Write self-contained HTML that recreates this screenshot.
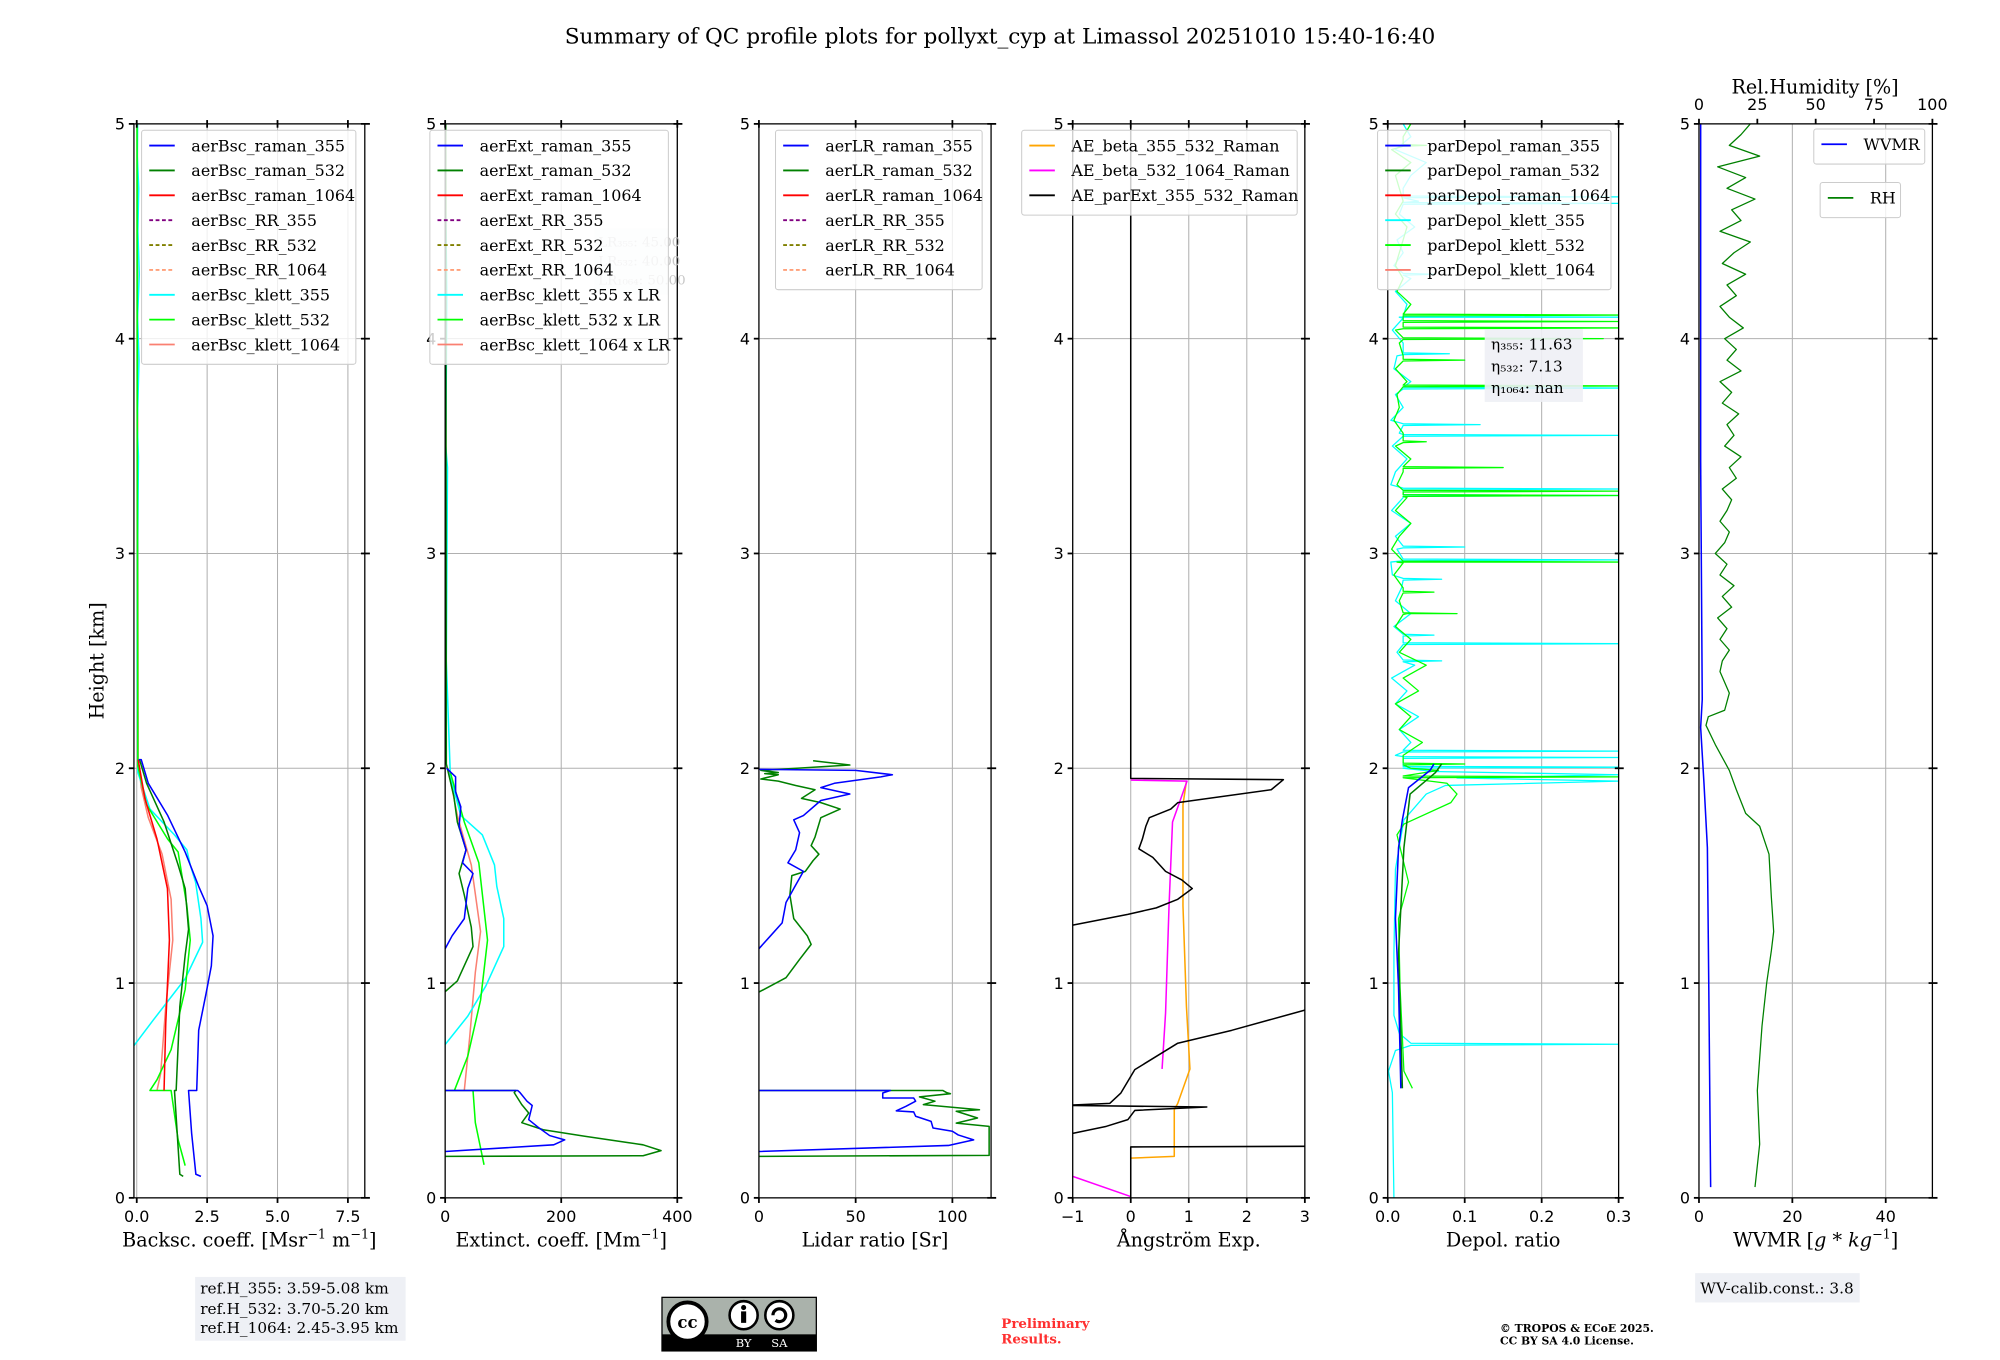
<!DOCTYPE html>
<html><head><meta charset="utf-8"><style>
html,body{margin:0;padding:0;background:#fff;}
svg{display:block;}
text{font-family:"DejaVu Serif","Liberation Serif",serif;}
.tk{font-family:"DejaVu Sans","Liberation Sans",sans-serif;font-size:12.5px;}
</style></head><body>
<svg id="fig" width="2000" height="1360" viewBox="0 0 1568 1066" xmlns="http://www.w3.org/2000/svg">
<rect x="0" y="0" width="1568" height="1066" fill="#fff"/>
<text x="784" y="34" text-anchor="middle" font-size="17">Summary of QC profile plots for pollyxt_cyp at Limassol 20251010 15:40-16:40</text>
<g id="plots"></g>
<g>
<rect x="153" y="1001" width="165" height="50" fill="#eef0f5"/>
<text x="157" y="1014" font-size="12">ref.H_355: 3.59-5.08 km</text>
<text x="157" y="1030" font-size="12">ref.H_532: 3.70-5.20 km</text>
<text x="157" y="1045" font-size="12">ref.H_1064: 2.45-3.95 km</text>
</g>
<g>
<rect x="519" y="1017" width="121" height="42" fill="#aab2ab" stroke="#000" stroke-width="1"/>
<rect x="519" y="1046" width="121" height="13" fill="#000"/>
<circle cx="539" cy="1036" r="15" fill="#fff" stroke="#000" stroke-width="3"/>
<text x="539" y="1041" font-size="13" text-anchor="middle" font-weight="bold" font-family="Liberation Sans,sans-serif">cc</text>
<circle cx="583" cy="1031" r="11" fill="#fff" stroke="#000" stroke-width="2"/>
<circle cx="583" cy="1025" r="2" fill="#000"/>
<rect x="581" y="1028" width="4" height="9" fill="#000"/>
<circle cx="611" cy="1031" r="11" fill="#fff" stroke="#000" stroke-width="2"/>
<path d="M606 1031 a5 5 0 1 1 2 4" fill="none" stroke="#000" stroke-width="2.5"/>
<text x="583" y="1056" font-size="9" fill="#fff" text-anchor="middle" font-family="Liberation Sans,sans-serif">BY</text>
<text x="611" y="1056" font-size="9" fill="#fff" text-anchor="middle" font-family="Liberation Sans,sans-serif">SA</text>
</g>
<text x="785" y="1041" font-size="10.5" font-weight="bold" fill="#ff3030">Preliminary</text>
<text x="785" y="1053" font-size="10.5" font-weight="bold" fill="#ff3030">Results.</text>
<text x="1176" y="1044" font-size="8.5" font-weight="bold">© TROPOS &amp; ECoE 2025.</text>
<text x="1176" y="1054" font-size="8.5" font-weight="bold">CC BY SA 4.0 License.</text>
<g>
<rect x="1329" y="998" width="129" height="23" fill="#eef0f5"/>
<text x="1333" y="1014" font-size="12">WV-calib.const.: 3.8</text>
</g>
</svg>
<script>
// ===== data (height km, value) =====
const bscRaman355=[[0.10,2.28],[0.11,2.1],[0.30,1.95],[0.50,1.84],[0.50,2.13],[0.78,2.2],[0.95,2.46],[1.08,2.65],[1.22,2.71],[1.36,2.5],[1.45,2.2],[1.61,1.72],[1.78,1.1],[1.93,0.41],[2.04,0.16],[2.04,0.07]];
const bscRaman532=[[0.10,1.65],[0.11,1.53],[0.50,1.34],[0.50,1.4],[0.89,1.53],[1.13,1.72],[1.25,1.84],[1.44,1.72],[1.55,1.47],[1.75,0.97],[1.93,0.35],[2.04,0.1]];
const bscRaman1064=[[0.50,0.97],[0.81,1.03],[1.2,1.16],[1.44,1.09],[1.67,0.72],[1.86,0.29],[2.04,0.05]];
const bscKlett355=[[0.70,-0.15],[0.83,0.6],[1.02,1.72],[1.19,2.34],[1.30,2.28],[1.47,2.09],[1.55,1.9],[1.62,1.78],[1.69,1.34],[1.81,0.47],[1.98,0.04],[2.5,0.02],[3.0,0.03],[3.45,0.06],[3.6,0.02],[3.9,0.08],[4.1,0.03],[4.3,0.09],[4.5,0.04],[4.7,0.07],[4.85,0.02],[5.0,0.03]];
const bscKlett532=[[0.15,1.72],[0.27,1.47],[0.50,1.22],[0.50,0.47],[0.55,0.72],[0.69,1.22],[0.97,1.72],[1.2,1.9],[1.36,1.78],[1.61,1.47],[1.67,1.1],[1.83,0.35],[2.01,0.04],[3.5,0.02],[5.0,0.01]];
const bscKlett1064=[[0.50,0.72],[0.58,0.85],[0.89,1.03],[1.2,1.28],[1.39,1.22],[1.6,0.9],[1.77,0.41],[1.91,0.16],[2.04,0.05],[5.0,0.02]];

const extRaman355=[[0.216,0],[0.247,187],[0.27,206],[0.29,180],[0.325,162],[0.364,144],[0.43,150],[0.45,141],[0.49,129],[0.5,125],[0.5,0],null,[1.16,0],[1.22,12],[1.30,33],[1.44,39],[1.51,48],[1.56,30],[1.62,36],[1.73,24],[1.82,27],[1.89,18],[1.96,18],[2.0,2.5]];
const extRaman532=[[0.193,0],[0.196,341],[0.22,372],[0.247,341],[0.286,242],[0.317,169],[0.35,132],[0.395,144],[0.434,132],[0.49,119],[0.5,122],[0.5,0],null,[0.96,0],[1.01,21],[1.17,48],[1.26,45],[1.41,33],[1.51,24],[1.62,36],[1.75,21],[1.87,15],[2.02,2],[5.0,1]];
const extKlett532=[[0.154,67],[0.35,52],[0.5,48],null,[0.5,16],[0.66,39],[0.92,61],[1.2,73],[1.56,58],[1.75,33],[1.98,9]];
const extKlett355=[[0.714,0],[0.846,39],[0.986,70],[1.17,101],[1.30,101],[1.45,89],[1.55,85],[1.69,64],[1.78,27],[1.96,9],[2.5,2],[3.4,4],[3.5,1],[4.2,3],[4.6,1]];
const extKlett1064=[[0.5,33],[0.74,42],[1.05,52],[1.24,61],[1.55,45],[1.78,21],[2.0,5]];

const lrRaman355=[[0.216,0],[0.244,98],[0.27,111],[0.293,103],[0.31,100],[0.325,90],[0.356,89],[0.38,81],[0.40,80],[0.405,71],[0.426,76],[0.45,81],[0.465,80],[0.465,64],[0.488,64],[0.5,68],[0.5,0],null,[1.16,0],[1.22,6],[1.28,12],[1.375,14],[1.44,18],[1.52,23],[1.56,15],[1.62,19],[1.70,21],[1.76,18],[1.78,23],[1.85,32],[1.88,47],[1.91,32],[1.93,39],[1.96,63],[1.97,69],[1.99,50],[1.995,0]];
const lrRaman532=[[0.193,0],[0.198,119],[0.333,119],[0.348,102],[0.372,113],[0.403,102],[0.41,114],[0.434,85],[0.45,91],[0.47,83],[0.485,99],[0.49,97],[0.5,95],[0.5,0],null,[0.958,0],[1.025,14],[1.11,21],[1.18,27],[1.22,25],[1.30,18],[1.41,16],[1.50,17],[1.52,24],[1.57,28],[1.60,31],[1.64,27],[1.68,29],[1.77,32],[1.81,42],[1.84,32],[1.86,22],[1.90,29],[1.92,19],[1.94,10],[1.95,1],[1.97,10],[1.975,3],[1.98,10],[1.99,1],[2.015,47],[2.035,28]];

const aeBeta355532=[[0.185,0],[0.193,0.75],[0.41,0.75],[0.44,0.81],[0.6,1.02],[0.89,0.96],[1.36,0.9],[1.83,0.9],[1.94,0.96]];
const aeBeta5321064=[[0.1,-1],[0.006,0],null,[0.6,0.54],[0.86,0.6],[1.36,0.66],[1.75,0.72],[1.94,0.97],[1.945,0]];
const aeParExt=[[0,0],[0.237,0],[0.24,3],null,[0.30,-1],[0.333,-0.42],[0.364,-0.05],[0.407,0.07],[0.423,1.31],[0.43,-1],null,[0.432,-1],[0.44,-0.36],[0.488,-0.17],[0.597,0.07],[0.72,0.81],[0.78,1.74],[0.874,3]];
const aeParExtUpper=[[1.27,-1],[1.32,-0.05],[1.35,0.44],[1.39,0.81],[1.44,1.06],[1.48,0.88],[1.52,0.6],[1.585,0.38],[1.625,0.14],[1.67,0.2],[1.73,0.26],[1.77,0.32],[1.81,0.69],[1.84,0.81],[1.90,2.42],[1.947,2.63],[1.953,0],[5.0,0]];

const depRaman355=[[0.51,0.017],[0.98,0.014],[1.30,0.010],[1.63,0.014],[1.76,0.019],[1.91,0.027],[1.99,0.055],[2.02,0.06]];
const depRaman532=[[0.51,0.019],[1.14,0.014],[1.63,0.021],[1.88,0.029],[1.98,0.062],[2.02,0.07]];
const depKlett532Low=[[0.51,0.032],[0.59,0.021],[0.98,0.016],[1.30,0.014],[1.47,0.027],[1.69,0.012],[1.74,0.021],[1.84,0.082],[1.88,0.09],[1.93,0.077],[1.99,0.066]];
const depKlett355Low=[[0,0.008],[0.49,0.006],[0.59,0.001],[0.686,0.01],[0.71,0.03],[0.715,0.3],[0.72,0.03],[0.766,0.015],[0.85,0.008],[1.14,0.008],[1.53,0.01],[1.76,0.021],[1.88,0.05],[1.92,0.075],[1.94,0.3],[1.955,0.09],[1.97,0.3],[1.985,0.06]];
const depBaseH0=2.0, depBaseStep=0.06;
const depKlett355Base=[0.02,0.01,0.03,0.015,0.04,0.01,0.025,0.005,0.035,0.012,0.02,0.008,0.03,0.01,0.018,0.006,0.004,0.012,0.01,0.03,0.005,0.02,0.004,0.01,0.025,0.006,0.015,0.004,0.02,0.01,0.03,0.008,0.012,0.02,0.006,0.015,0.025,0.01,0.03,0.008,0.02,0.012,0.035,0.015,0.04,0.02,0.03,0.05,0.01,0.03,0.02];
const depKlett532Base=[0.03,0.02,0.045,0.015,0.03,0.01,0.04,0.02,0.05,0.015,0.03,0.01,0.025,0.015,0.02,0.008,0.012,0.005,0.015,0.03,0.01,0.025,0.012,0.02,0.03,0.01,0.02,0.008,0.015,0.012,0.025,0.01,0.02,0.015,0.01,0.02,0.03,0.012,0.02,0.01,0.015,0.02,0.025,0.01,0.02,0.015,0.01,0.03,0.005,0.02,0.03];
const depKlett355Spikes=[[2.005,0.3],[2.05,0.3],[2.08,0.3],[2.5,0.07],[2.58,0.3],[2.62,0.06],[2.88,0.07],[2.97,0.3],[3.03,0.1],[3.27,0.3],[3.30,0.3],[3.55,0.3],[3.60,0.12],[3.77,0.3],[3.93,0.08],[4.10,0.3],[4.63,0.3],[4.66,0.3],[4.3,0.06]];
const depKlett532Spikes=[[1.96,0.3],[2.02,0.1],[2.72,0.09],[2.82,0.06],[2.96,0.3],[3.27,0.3],[3.29,0.3],[3.40,0.15],[3.52,0.05],[3.78,0.3],[4.0,0.28],[4.05,0.3],[4.08,0.3],[4.11,0.3],[3.9,0.1],[4.9,0.05]];

const wvmr=[[0.05,2.5],[0.98,2.1],[1.63,1.8],[1.93,1.07],[2.19,0.36],[2.32,0.7],[3.43,0.36],[5.0,0.36]];
const rhLow=[[0.05,24],[0.25,26],[0.5,25],[0.8,27],[1.0,29],[1.15,31],[1.24,32],[1.4,31],[1.6,30],[1.73,26],[1.79,20],[1.90,16],[1.99,13],[2.11,7],[2.2,3],[2.24,4],[2.27,11],[2.35,13],[2.45,9]];
const rhH0=2.5, rhStep=0.05;
const rhBase=[10,13,9,12,8,14,10,15,9,12,7,11,13,9,12,14,10,16,13,18,11,15,12,17,10,14,9,18,12,16,11,19,13,9,16,12,20,10,15,22,9,18,14,24,12,20,8,26,13,18,22];

const ticks1=[0,2.5,5,7.5], tickLab1=["0.0","2.5","5.0","7.5"];
const ticks2=[0,200,400], ticks3=[0,50,100], ticks4=[-1,0,1,2,3], tickLab4=["\u22121","0","1","2","3"];
const ticks5=[0,0.1,0.2,0.3], tickLab5=["0.0","0.1","0.2","0.3"];
const ticks6=[0,20,40], ticksRH=[0,25,50,75,100];
const heightTicks=[0,1,2,3,4,5];

// ===== drawing =====
const NS="http://www.w3.org/2000/svg";
const root=document.getElementById('plots');
const Y0=939, KM=168.4;
function yS(h){return Y0-h*KM;}
function mk(tag,attrs,parent){const e=document.createElementNS(NS,tag);for(const k in attrs)e.setAttribute(k,attrs[k]);(parent||root).appendChild(e);return e;}
function xS(p,v){return p.x0+(v-p.d0)/(p.d1-p.d0)*(p.x1-p.x0);}
function pathOf(p,pts){let d="",mv=true;for(const q of pts){if(q===null){mv=true;continue;}d+=(mv?"M":"L")+xS(p,q[1]).toFixed(2)+" "+yS(q[0]).toFixed(2)+" ";mv=false;}return d;}
function series(p,pts,color,name,w,dash){const e=mk('path',{d:pathOf(p,pts),fill:'none',stroke:color,'stroke-width':w||1.2,'stroke-linejoin':'round'},p.clip);


if(dash)e.setAttribute('stroke-dasharray',dash);return e;}
function baseSeries(h0,step,vals,spikes,low){const pts=(low||[]).slice();vals.forEach((v,i)=>pts.push([h0+i*step,v]));spikes.forEach(s=>{pts.push([s[0]-0.004,0.02]);pts.push(s);pts.push([s[0]+0.004,0.02]);});pts.sort((a,b)=>a[0]-b[0]);return pts;}

let panelId=0;
function panel(x0,x1,d0,d1,ticks,labs,xlabel,name){
  panelId++;
  const g=mk('g',{});
  
  
  const p={x0,x1,d0,d1,g};
  const cp=mk('clipPath',{id:'c'+panelId},g);mk('rect',{x:x0,y:yS(5),width:x1-x0,height:5*KM},cp);
  // grid
  ticks.forEach(t=>{const l=mk('line',{x1:xS(p,t),x2:xS(p,t),y1:yS(0),y2:yS(5),stroke:'#b0b0b0','stroke-width':0.8},g);
  
  });
  heightTicks.forEach(h=>{const l=mk('line',{x1:x0,x2:x1,y1:yS(h),y2:yS(h),stroke:'#b0b0b0','stroke-width':0.8},g);
  
  });
  p.clip=mk('g',{'clip-path':'url(#c'+panelId+')'},g);
  return p;
}
function frame(p,ticks,labs,xlabel,topTicks){
  const g=p.g;
  const fr=mk('rect',{x:p.x0,y:yS(5),width:p.x1-p.x0,height:5*KM,fill:'none',stroke:'#000','stroke-width':1},g);
  
  
  heightTicks.forEach(h=>{mk('line',{x1:p.x0-4,x2:p.x0,y1:yS(h),y2:yS(h),stroke:'#000','stroke-width':1.4},g);
    mk('line',{x1:p.x1-3,x2:p.x1+4,y1:yS(h),y2:yS(h),stroke:'#000','stroke-width':1.4},g);
    const t=mk('text',{x:p.x0-7,y:yS(h)+4.5,'text-anchor':'end',class:'tk'},g);t.textContent=h;
    
    });
  ticks.forEach((v,i)=>{const x=xS(p,v);mk('line',{x1:x,x2:x,y1:yS(0),y2:yS(0)+4,stroke:'#000','stroke-width':1.4},g);
    if(topTicks!==false)mk('line',{x1:x,x2:x,y1:yS(5)-3,y2:yS(5)+3,stroke:'#000','stroke-width':1.4},g);
    const t=mk('text',{x:x,y:yS(0)+19,'text-anchor':'middle',class:'tk'},g);t.textContent=labs?labs[i]:v;
    
    });
  const xl=mk('text',{x:(p.x0+p.x1)/2,y:977,'text-anchor':'middle','font-size':15},g);xl.innerHTML=xlabel;
  
  
}
function legend(x,y,w,items,fs,gap,nm){
  const g=mk('g',{});
  
  
  gap=gap||19.5;
  mk('rect',{x:x,y:y,width:w,height:items.length*gap+8,rx:2,fill:'#fff','fill-opacity':0.8,stroke:'#cccccc','stroke-width':0.8},g);
  items.forEach((it,i)=>{const yy=y+12+i*gap;
    const ln=mk('line',{x1:x+6,x2:x+26,y1:yy,y2:yy,stroke:it[1],'stroke-width':1.4},g);
    if(it[2])ln.setAttribute('stroke-dasharray','3,2');
    const t=mk('text',{x:x+39,y:yy+4.5,'font-size':fs||12.5},g);t.textContent=it[0];
    
    });
}
const B='#0000ff',G='#008000',R='#ff0000',C='#00ffff',L='#00ff00',S='#fa8072',PU='#800080',OL='#808000',LS='#ffa07a';

// Panel 1
const p1=panel(105,286,-0.1,8.1,ticks1,null,'','backscatter-panel');
series(p1,bscKlett1064,S,'bsc-klett-1064');series(p1,bscKlett355,C,'bsc-klett-355');series(p1,bscKlett532,L,'bsc-klett-532');
series(p1,bscRaman1064,R,'bsc-raman-1064');series(p1,bscRaman532,G,'bsc-raman-532');series(p1,bscRaman355,B,'bsc-raman-355');
frame(p1,ticks1,tickLab1,'Backsc. coeff. [Msr<tspan dy="-6" font-size="10">−1</tspan><tspan dy="6"> m</tspan><tspan dy="-6" font-size="10">−1</tspan><tspan dy="6">]</tspan>');
legend(111,102,168,[['aerBsc_raman_355',B],['aerBsc_raman_532',G],['aerBsc_raman_1064',R],['aerBsc_RR_355',PU,1],['aerBsc_RR_532',OL,1],['aerBsc_RR_1064',LS,1],['aerBsc_klett_355',C],['aerBsc_klett_532',L],['aerBsc_klett_1064',S]],12.5,19.5,'backscatter-legend');

// Panel 2
const p2=panel(349,531,0,400,ticks2,null,'','extinction-panel');
series(p2,extKlett1064,S,'ext-klett-1064');series(p2,extKlett355,C,'ext-klett-355');series(p2,extKlett532,L,'ext-klett-532');
series(p2,extRaman532,G,'ext-raman-532');series(p2,extRaman355,B,'ext-raman-355');
frame(p2,ticks2,null,'Extinct. coeff. [Mm<tspan dy="-6" font-size="10">−1</tspan><tspan dy="6">]</tspan>');
(function(){const g=mk('g',{});


mk('rect',{x:466,y:179,width:58,height:52,fill:'#eef0f5','fill-opacity':0.5},g);
[['LR₃₅₅: 45.00',193],['LR₅₃₂: 40.00',208],['LR₁₀₆₄: 50.00',223]].forEach(a=>{const t=mk('text',{x:469,y:a[1],'font-size':10.5,fill:'#c8c8c8'},g);t.textContent=a[0];});})();
legend(337,102,187,[['aerExt_raman_355',B],['aerExt_raman_532',G],['aerExt_raman_1064',R],['aerExt_RR_355',PU,1],['aerExt_RR_532',OL,1],['aerExt_RR_1064',LS,1],['aerBsc_klett_355 x LR',C],['aerBsc_klett_532 x LR',L],['aerBsc_klett_1064 x LR',S]],12.5,19.5,'extinction-legend');

// Panel 3
const p3=panel(595,777,0,120,ticks3,null,'','lidar-ratio-panel');
series(p3,lrRaman532,G,'lr-raman-532');series(p3,lrRaman355,B,'lr-raman-355');
frame(p3,ticks3,null,'Lidar ratio [Sr]');
legend(608,102,162,[['aerLR_raman_355',B],['aerLR_raman_532',G],['aerLR_raman_1064',R],['aerLR_RR_355',PU,1],['aerLR_RR_532',OL,1],['aerLR_RR_1064',LS,1]],12.5,19.5,'lidar-ratio-legend');

// Panel 4
const p4=panel(841,1023,-1,3,ticks4,null,'','angstrom-panel');
series(p4,aeBeta355532,'#ffa500','ae-beta-355-532');series(p4,aeBeta5321064,'#ff00ff','ae-beta-532-1064');
series(p4,aeParExt,'#000','ae-parext-lower');series(p4,aeParExtUpper,'#000','ae-parext-upper');
frame(p4,ticks4,tickLab4,'Ångström Exp.');
legend(801,102,216,[['AE_beta_355_532_Raman','#ffa500'],['AE_beta_532_1064_Raman','#ff00ff'],['AE_parExt_355_532_Raman','#000']],12.5,19.5,'angstrom-legend');

// Panel 5
const p5=panel(1088,1269,0,0.3,ticks5,null,'','depol-panel');
series(p5,baseSeries(depBaseH0,depBaseStep,depKlett355Base,depKlett355Spikes,depKlett355Low),C,'depol-klett-355',1);
series(p5,baseSeries(depBaseH0,depBaseStep,depKlett532Base,depKlett532Spikes,depKlett532Low),L,'depol-klett-532',1);
series(p5,depRaman532,G,'depol-raman-532');series(p5,depRaman355,B,'depol-raman-355');
frame(p5,ticks5,tickLab5,'Depol. ratio');
legend(1080,102,183,[['parDepol_raman_355',B],['parDepol_raman_532',G],['parDepol_raman_1064',R],['parDepol_klett_355',C],['parDepol_klett_532',L],['parDepol_klett_1064',S]],12.5,19.5,'depol-legend');
(function(){const g=mk('g',{});


mk('rect',{x:1164,y:258,width:77,height:57,fill:'#eef0f5','fill-opacity':0.9},g);
[['η₃₅₅: 11.63',274],['η₅₃₂: 7.13',291],['η₁₀₆₄: nan',308]].forEach(a=>{const t=mk('text',{x:1169,y:a[1],'font-size':12},g);t.textContent=a[0];});})();

// Panel 6
const p6=panel(1332,1515,0,50,ticks6,null,'','water-vapor-panel');
const pRH={x0:1332,x1:1515,d0:0,d1:100,clip:p6.clip};
series(pRH,baseSeries(rhH0,rhStep,rhBase,[],rhLow),G,'rh-profile',1);
series(p6,wvmr,B,'wvmr-profile');
frame(p6,ticks6,null,'WVMR [<tspan font-style="italic">g</tspan> * <tspan font-style="italic">kg</tspan><tspan dy="-6" font-size="10">−1</tspan><tspan dy="6">]</tspan>',false);
ticksRH.forEach(v=>{const x=xS(pRH,v);mk('line',{x1:x,x2:x,y1:yS(5)-4,y2:yS(5),stroke:'#000','stroke-width':1.4});
const t=mk('text',{x:x,y:86,'text-anchor':'middle',class:'tk'});t.textContent=v;

});
(function(){const t=mk('text',{x:1423,y:73,'text-anchor':'middle','font-size':15});t.textContent='Rel.Humidity [%]';

})();
legend(1422,101,87,[['WVMR',B]],12.5,19.5,'wvmr-legend');
legend(1427,143,63,[['RH',G]],12.5,19.5,'rh-legend');

// y-axis title
(function(){const t=mk('text',{x:0,y:0,'text-anchor':'middle','font-size':15,transform:'translate(81,518) rotate(-90)'});t.textContent='Height [km]';

})();
</script>
</body></html>
